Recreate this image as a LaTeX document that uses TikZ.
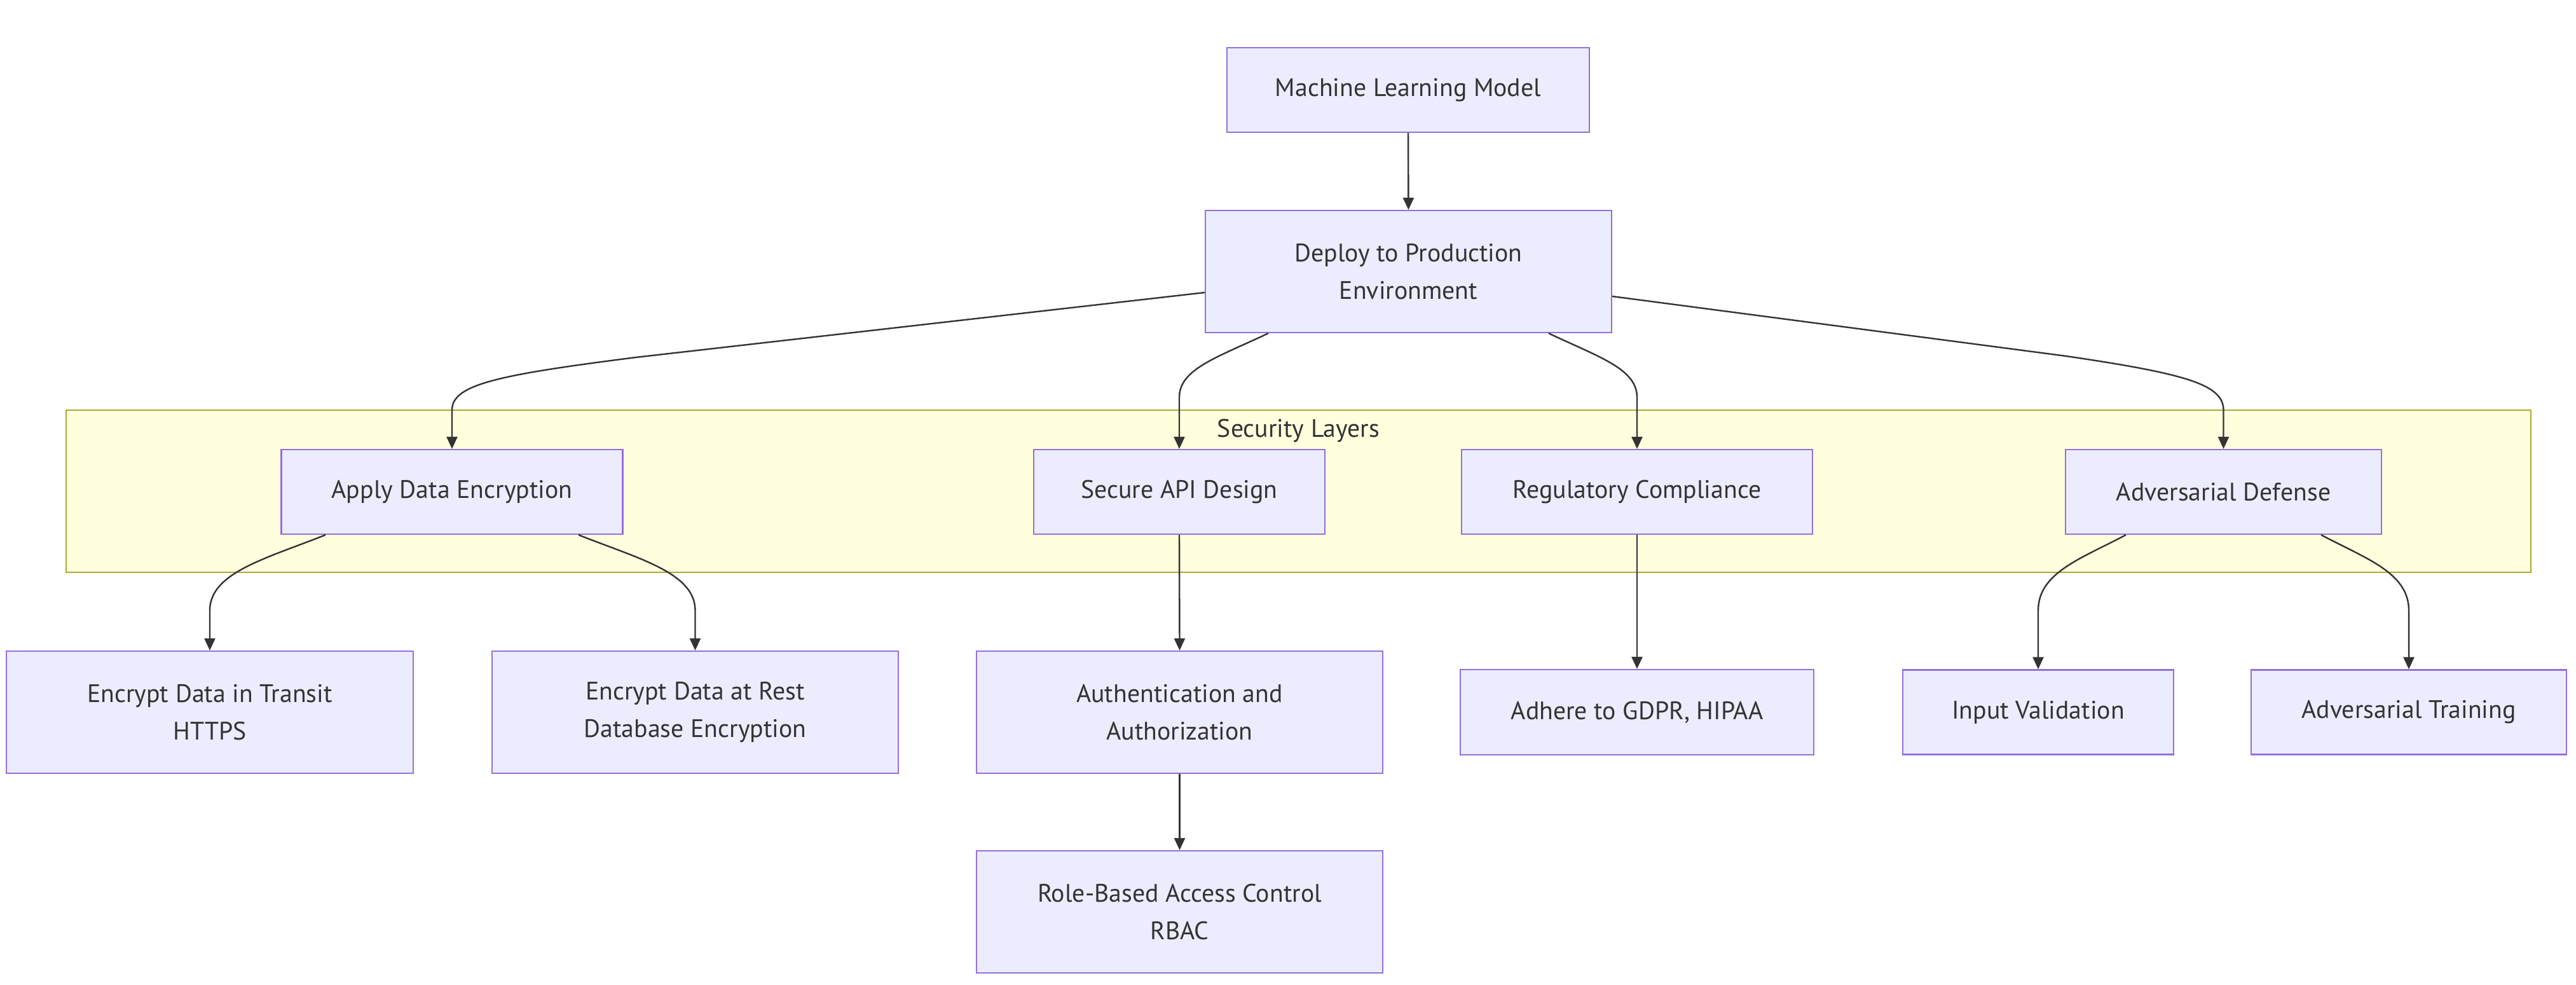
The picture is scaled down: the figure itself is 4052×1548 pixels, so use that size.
\documentclass[tikz,border=0pt]{standalone}
\usepackage{fontspec}
\setmainfont{PT Sans}
\usetikzlibrary{arrows.meta}
\definecolor{nodefill}{HTML}{ECECFF}
\definecolor{nodeline}{HTML}{9370DB}
\definecolor{clfill}{HTML}{FFFFDE}
\definecolor{clline}{HTML}{AAAA33}
\definecolor{ink}{HTML}{333333}
\tikzset{
  box/.style={draw=nodeline, fill=nodefill, line width=1.1pt, text=ink, align=center,
    inner sep=0pt, font=\fontsize{19.9}{29.5}\selectfont},
  arr/.style={draw=ink, line width=1.2pt, -{Triangle[length=9.5pt,width=8.5pt]}},
  clusterbox/.style={draw=clline, fill=clfill, line width=1.1pt, inner sep=0pt},
}
\begin{document}
\begin{tikzpicture}[x=0.5pt,y=-0.5pt]
\fill[white] (0,0) rectangle (4052,1548);
\useasboundingbox (0,0) rectangle (4052,1548);

% cluster
\node[clusterbox, minimum width=1938.5pt, minimum height=127.5pt] (sec) at (2042.5,772.5) {};
\node[text=ink, font=\fontsize{19.9}{29.5}\selectfont, inner sep=0pt] (seclabel) at (2042.5,677) {Security Layers};

% nodes
\node[box, minimum width=285pt, minimum height=66.5pt] (mlm) at (2215,141.5) {Machine Learning Model};
\node[box, minimum width=319.5pt, minimum height=96pt] (dep) at (2215.5,427) {Deploy to Production\\Environment};

\node[box, minimum width=268.5pt, minimum height=66.5pt] (apply) at (711,773.5) {Apply Data Encryption};
\node[box, minimum width=229pt, minimum height=66.5pt] (api) at (1855,773.5) {Secure API Design};
\node[box, minimum width=276pt, minimum height=66.5pt] (reg) at (2575,773.5) {Regulatory Compliance};
\node[box, minimum width=248.5pt, minimum height=66.5pt] (adv) at (3497.5,773.5) {Adversarial Defense};

\node[box, minimum width=320pt, minimum height=96pt] (transit) at (330,1120) {Encrypt Data in Transit\\HTTPS};
\node[box, minimum width=319.5pt, minimum height=96pt] (rest) at (1093.5,1120) {Encrypt Data at Rest\\Database Encryption};
\node[box, minimum width=319.5pt, minimum height=96pt] (auth) at (1855.5,1120) {Authentication and\\Authorization};
\node[box, minimum width=278pt, minimum height=67pt] (adhere) at (2575,1120) {Adhere to GDPR, HIPAA};
\node[box, minimum width=213pt, minimum height=66.5pt] (input) at (3206,1120) {Input Validation};
\node[box, minimum width=248pt, minimum height=66.5pt] (train) at (3789,1120) {Adversarial Training};
\node[box, minimum width=319.5pt, minimum height=96pt] (rbac) at (1855.5,1434) {Role-Based Access Control\\RBAC};

% edges
\draw[arr] (mlm.south) -- (dep.north);
\draw[arr] ([yshift=-16.5pt]dep.west) -- (1000,562) .. controls (780,590) and (711,605) .. (711,645) -- (apply.north);
\draw[arr] ([xshift=-110.25pt]dep.south) .. controls (1915,562) and (1855,580) .. (1855,625) -- (api.north);
\draw[arr] ([xshift=110.25pt]dep.south) .. controls (2516,562) and (2575,580) .. (2575,625) -- (reg.north);
\draw[arr] ([yshift=-19.5pt]dep.east) -- (3250,560) .. controls (3440,588) and (3497.5,605) .. (3497.5,645) -- (adv.north);

\draw[arr] ([xshift=-99.5pt]apply.south) .. controls (420,878) and (330,900) .. (330,960) -- (transit.north);
\draw[arr] ([xshift=99.5pt]apply.south) .. controls (1002,878) and (1093.5,900) .. (1093.5,960) -- (rest.north);
\draw[arr] (api.south) -- (auth.north);
\draw[arr] (auth.south) -- (rbac.north);
\draw[arr] (reg.south) -- (adhere.north);
\draw[arr] ([xshift=-76.75pt]adv.south) .. controls (3275,878) and (3206,900) .. (3206,960) -- (input.north);
\draw[arr] ([xshift=76.75pt]adv.south) .. controls (3720,878) and (3789,900) .. (3789,960) -- (train.north);
\end{tikzpicture}
\end{document}
